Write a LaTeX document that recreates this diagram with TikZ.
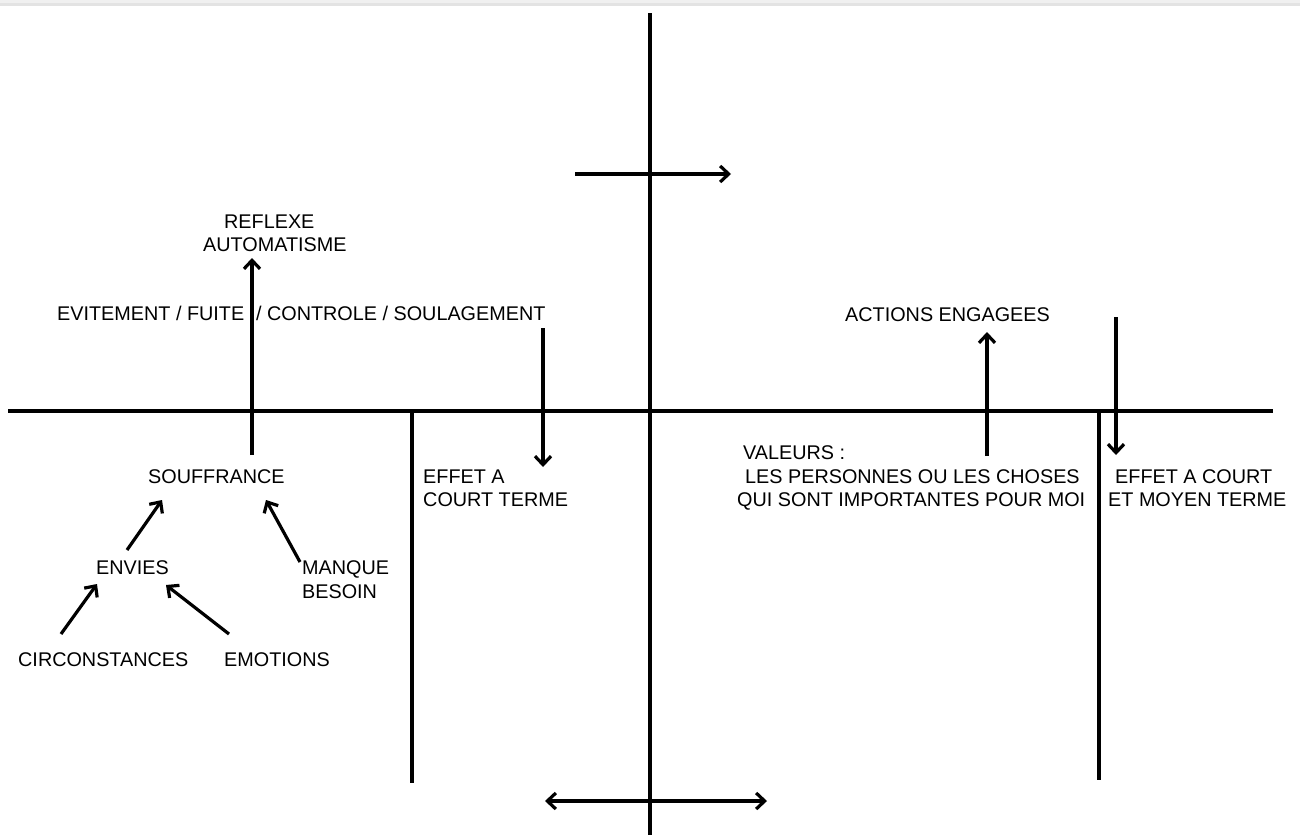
\documentclass[tikz,border=0pt]{standalone}
\usepackage{fontspec}
\setmainfont{Liberation Sans}
\usetikzlibrary{arrows.meta}
\definecolor{bandA}{HTML}{F0F0F0}
\definecolor{bandB}{HTML}{E3E3E3}
\begin{document}
\begin{tikzpicture}[x=1pt,y=-1pt,
  lbl/.style={anchor=base west,inner sep=0pt,font=\fontsize{19.8}{23}\selectfont},
  axis/.style={line width=3.3pt},
  arr/.style={line width=3.2pt,-{Straight Barb[length=8.5pt,width=16pt,line width=3.2pt]}},
  darr/.style={line width=3.2pt,{Straight Barb[length=8.5pt,width=16pt,line width=3.2pt]}-{Straight Barb[length=8.5pt,width=16pt,line width=3.2pt]}}]
\useasboundingbox (0,0) rectangle (1300,835);
\fill[white] (0,0) rectangle (1300,835);
\fill[bandA] (0,0) rectangle (1300,3);
\fill[bandB] (0,3) rectangle (1300,6);

% axes
\coordinate (vtop) at (650,13);
\coordinate (vbot) at (650,835);
\coordinate (hl) at (8,411);
\coordinate (hr) at (1273,411);
\coordinate (d1t) at (412,411);
\coordinate (d1b) at (412,783);
\coordinate (d2t) at (1099,411);
\coordinate (d2b) at (1099,780);
\coordinate (ta) at (575,174);
\coordinate (tb) at (731,174);
\coordinate (ba) at (545,801);
\coordinate (bb) at (767,801);
\coordinate (rdtop) at (1116,317);
\draw[axis] (vtop) -- (vbot);
\draw[axis] (hl) -- (hr);
\draw[axis] (d1t) -- (d1b);
\draw[axis] (d2t) -- (d2b);
\draw[arr] (ta) -- (tb);
\draw[darr] (ba) -- (bb);

% labels
\node[lbl] (reflexe) at (224,228) {REFLEXE};
\node[lbl] (autom) at (203,251) {AUTOMATISME};
\node[lbl] (evit) at (57,320) {EVITEMENT / FUITE\hspace{0.6em}/ CONTROLE / SOULAGEMENT};
\node[lbl] (souf) at (148,483) {SOUFFRANCE};
\node[lbl] (envies) at (96,574) {ENVIES};
\node[lbl] (manque) at (302,574) {MANQUE};
\node[lbl] (besoin) at (302,598) {BESOIN};
\node[lbl] (circ) at (18,666) {CIRCONSTANCES};
\node[lbl] (emo) at (224,666) {EMOTIONS};
\node[lbl] (effa) at (423,483) {EFFET A};
\node[lbl] (effb) at (423,506) {COURT TERME};
\node[lbl] (actions) at (845,321) {ACTIONS ENGAGEES};
\node[lbl] (val) at (743,459) {VALEURS :};
\node[lbl] (valb) at (745,483) {LES PERSONNES OU LES CHOSES};
\node[lbl] (valc) at (737,506) {QUI SONT IMPORTANTES POUR MOI};
\node[lbl] (effc) at (1115,483) {EFFET A COURT};
\node[lbl] (effd) at (1108,506) {ET MOYEN TERME};

% connectors
\draw[arr] ([shift={(31,-24)}]envies.base west) -- ([shift={(14,17)}]souf.base west);
\draw[arr] ([shift={(-2,-12)}]manque.base west) -- ([shift={(118,17)}]souf.base west);
\draw[arr] ([shift={(43,-32)}]circ.base west) -- ([shift={(1,10)}]envies.base west);
\draw[arr] ([shift={(5,-32)}]emo.base west) -- ([shift={(70,11)}]envies.base west);
\draw[arr] ([shift={(104,-28)}]souf.base west) -- ([shift={(49,7)}]autom.base west);
\draw[arr] ([shift={(486,8)}]evit.base west) -- ([shift={(120,-16)}]effa.base west);
\draw[arr] ([shift={(244,-3)}]val.base west) -- ([shift={(142,11)}]actions.base west);
\draw[arr] (rdtop) -- ([shift={(1,-28)}]effc.base west);
\end{tikzpicture}
\end{document}
